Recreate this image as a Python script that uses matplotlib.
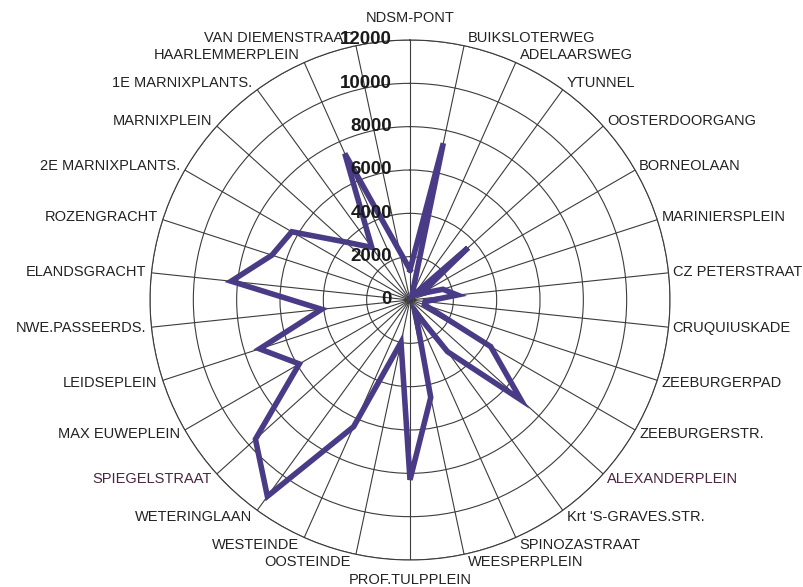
import numpy as np
import matplotlib.pyplot as plt
from matplotlib.transforms import offset_copy

plt.rcParams['font.family'] = ['Liberation Sans', 'DejaVu Sans']

# stations, clockwise from the top
stations = ['NDSM-PONT', 'BUIKSLOTERWEG', 'ADELAARSWEG', 'YTUNNEL', 'OOSTERDOORGANG',
            'BORNEOLAAN', 'MARINIERSPLEIN', 'CZ PETERSTRAAT', 'CRUQUIUSKADE', 'ZEEBURGERPAD',
            'ZEEBURGERSTR.', 'ALEXANDERPLEIN', "Krt 'S-GRAVES.STR.", 'SPINOZASTRAAT',
            'WEESPERPLEIN', 'PROF.TULPPLEIN', 'OOSTEINDE', 'WESTEINDE', 'WETERINGLAAN',
            'SPIEGELSTRAAT', 'MAX EUWEPLEIN', 'LEIDSEPLEIN', 'NWE.PASSEERDS.', 'ELANDSGRACHT',
            'ROZENGRACHT', '2E MARNIXPLANTS.', 'MARNIXPLEIN', '1E MARNIXPLANTS.',
            'HAARLEMMERPLEIN', 'VAN DIEMENSTRAAT']

counts = [1400, 7400, 200, 300, 3600, 600, 1600, 2200, 700, 700,
          4300, 6900, 2950, 600, 4600, 8300, 2000, 6400, 11200, 9600,
          5900, 7300, 4100, 8300, 6700, 6300, 4000, 3000, 7400, 2300]

ring_values = [0, 2000, 4000, 6000, 8000, 10000, 12000]
ring_labels = ['0', '2000', '4000', '6000', '8000', '10000', '12000']

# labels printed in a reddish tint on the original
tinted = ['SPIEGELSTRAAT', 'ALEXANDERPLEIN']

fig = plt.figure(figsize=(8.04, 5.87), dpi=100)
ax = fig.add_axes([150 / 804, 27 / 587, 520 / 804, 520 / 587], projection='polar')
ax.set_theta_zero_location('N')
ax.set_theta_direction(-1)

n = len(stations)
angles = np.arange(n) * 2 * np.pi / n

ax.plot(np.append(angles, angles[0]), counts + [counts[0]],
        color='#4a3b86', linewidth=4.0, solid_joinstyle='miter', zorder=3)

ax.set_ylim(0, 12000)
ax.set_yticks(ring_values[1:])
ax.set_yticklabels([])
ax.set_xticks(angles)
ax.set_xticklabels([])
ax.grid(True, color='#3c3c3c', linewidth=0.8)
ax.spines['polar'].set_color('#3c3c3c')
ax.spines['polar'].set_linewidth(0.8)

# radial value labels, left of the vertical spoke
lab_tr = offset_copy(ax.transData, fig=fig, x=-18, y=0, units='dots')
for v, t in zip(ring_values, ring_labels):
    ax.text(0, v, t, transform=lab_tr, ha='right', va='center',
            fontsize=13.5, fontweight='bold', color='#1a1a1a', zorder=4)

# category labels at the spoke ends
for a, name in zip(angles, stations):
    s, c = np.sin(a), np.cos(a)
    if abs(s) < 0.01:
        ha = 'center'
        dx = 0
        dy = 22 if c > 0 else -20
    else:
        ha = 'left' if s > 0 else 'right'
        dx = 4 if s > 0 else -5
        dy = 8 * c
    col = '#4a2540' if name in tinted else '#222222'
    tr = offset_copy(ax.transData, fig=fig, x=dx, y=dy, units='dots')
    ax.text(a, 12000, name, transform=tr, ha=ha, va='center',
            fontsize=10.5, color=col)

fig.savefig('out.png', dpi=100)
